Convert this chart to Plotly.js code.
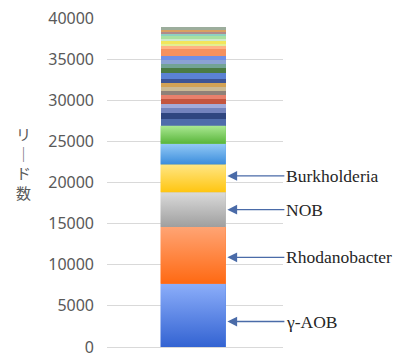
<!DOCTYPE html>
<html>
<head>
<meta charset="utf-8">
<script src="https://cdn.plot.ly/plotly-3.0.1.min.js"></script>
<style>html,body{margin:0;padding:0;background:#fff;}#chart{width:407px;height:357px;}</style>
</head>
<body>
<div id="chart"></div>
<script>
// Stacked segments, bottom to top
const segNames = ['γ-AOB','Rhodanobacter','NOB','Burkholderia','その他1','その他2','その他3','その他4','その他5','その他6','その他7','その他8','その他9','その他10','その他11','その他12','その他13','その他14','その他15','その他16','その他17','その他18','その他19','その他20','その他21','その他22','その他23','その他24','その他25','その他26','その他27'];
const segValues = [7700, 6900, 4200, 3400, 2500, 2200, 800, 700, 600, 600, 500, 500, 500, 500, 500, 500, 700, 600, 500, 500, 500, 800, 350, 350, 350, 250, 350, 250, 250, 250, 250];
const segColors = ['#5f8de6','#ff8340','#bcbcbc','#ffd845','#68aaeb','#80cf65','#4f6cab','#2f4680','#7383bd','#a3abd9','#c4553f','#e8806c','#8f8178','#cbb994','#d2a255','#3d5494','#5b82d3','#4b7b42','#72a394','#8ba2d2','#6f8fe6','#f5915f','#ffb283','#e3ef92','#f2e65c','#cfeacb','#a9e1a0','#8ed1c1','#b08b8b','#d9a162','#9cad9c'];
// gradient (bottom, top) shades for the six large segments
const gradBottom = ['#3363d2','#ff6912','#9f9f9f','#ffc510','#3b8ddc','#58b53a'];
const gradTop    = ['#8caefa','#ffa474','#dadada','#ffe684','#93c9f6','#aae892'];
const yTicks = [0,5000,10000,15000,20000,25000,30000,35000,40000];
const labelNames = ['Burkholderia','NOB','Rhodanobacter','γ-AOB'];
const labelY = [20800, 16700, 10900, 3100];

const barWidth = 0.37;
const traces = segValues.map((v, i) => ({
  type: 'bar',
  x: [0],
  y: [v],
  name: segNames[i],
  width: barWidth,
  marker: {color: segColors[i], line: {width: 0}},
  hoverinfo: 'name+y'
}));

// gradient shading drawn over the large stacked segments (positions derived from the data)
let base = 0;
segValues.forEach((v, i) => {
  if (i < gradBottom.length) {
    const y0 = base, y1 = base + v;
    traces.push({
      type: 'scatter', mode: 'none',
      x: [-barWidth/2, barWidth/2, barWidth/2, -barWidth/2, -barWidth/2],
      y: [y0, y0, y1, y1, y0],
      fill: 'toself',
      fillgradient: {type: 'vertical', colorscale: [[0, gradBottom[i]], [1, gradTop[i]]]},
      hoverinfo: 'skip', showlegend: false
    });
  }
  base += v;
});

const annotations = labelNames.map((t, i) => ({
  xref: 'x', yref: 'y',
  x: barWidth/2 + 0.01, y: labelY[i],
  ax: 57, ay: 0,
  text: t,
  showarrow: true,
  arrowhead: 2, arrowsize: 1.5, arrowwidth: 1.3,
  arrowcolor: '#4a6ba8',
  xanchor: 'left',
  font: {family: '"Liberation Serif", "Times New Roman", serif', size: 17.5, color: '#262626'}
}));

annotations.push({
  xref: 'paper', yref: 'paper',
  x: -0.475, y: 0.56,
  xanchor: 'center', yanchor: 'middle',
  showarrow: false,
  text: 'リ<br>│<br>ド<br>数',
  font: {family: '"Noto Sans CJK JP", sans-serif', size: 15, color: '#595959'}
});

const layout = {
  width: 407, height: 357,
  margin: {l: 107, r: 124, t: 18, b: 10},
  barmode: 'stack',
  showlegend: false,
  paper_bgcolor: '#ffffff',
  plot_bgcolor: '#ffffff',
  xaxis: {
    type: 'linear',
    range: [-0.489, 0.511],
    showticklabels: false, ticks: '', showgrid: false, zeroline: false, showline: false, fixedrange: true
  },
  yaxis: {
    range: [0, 40000],
    tickvals: yTicks,
    ticktext: yTicks.map(String),
    showgrid: true, gridcolor: '#d9d9d9', gridwidth: 1,
    zeroline: true, zerolinecolor: '#d9d9d9', zerolinewidth: 1,
    showline: false,
    ticks: '', ticklabelstandoff: 12, ticklabeloverflow: 'allow',
    tickfont: {family: '"Noto Sans", sans-serif', size: 16, color: '#595959'}
  },
  annotations: annotations
};

Plotly.newPlot('chart', traces, layout, {displayModeBar: false, staticPlot: true});
</script>
</body>
</html>
